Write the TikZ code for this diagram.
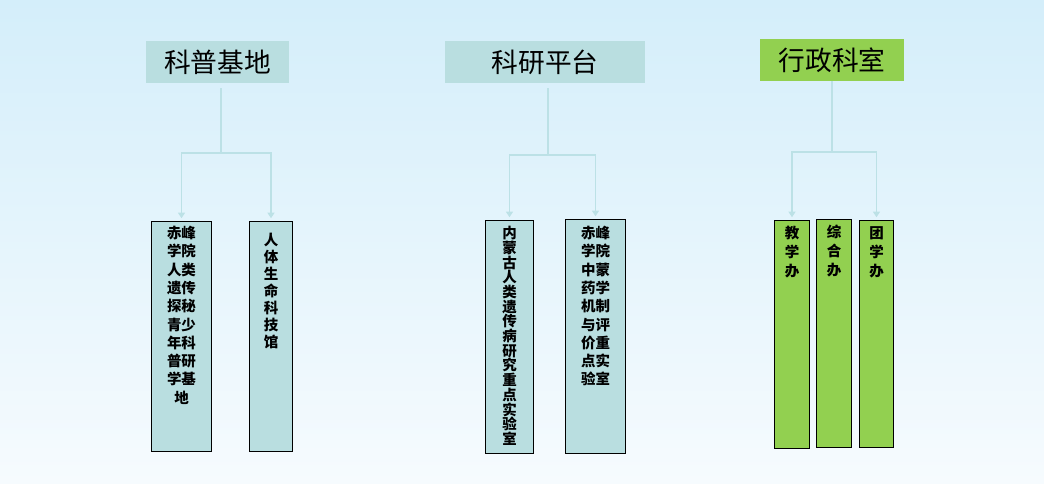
\documentclass[tikz,border=0pt]{standalone}
\usepackage{fontspec}
\usepackage{tikz}
\usetikzlibrary{arrows.meta}
\newfontfamily\cjk{Noto Sans CJK SC}
\newcommand\px{0.025cm}
\definecolor{bgtop}{RGB}{212,238,250}
\definecolor{bgbot}{RGB}{246,251,254}
\definecolor{cellblue}{RGB}{185,222,224}
\definecolor{linkblue}{RGB}{188,225,230}
\definecolor{officegreen}{RGB}{146,208,80}
\tikzset{
	head/.style={fill=cellblue, minimum height=42*\px, inner sep=0pt, font=\cjk\fontsize{19}{21}\selectfont},
	cell/.style={draw=black, line width=0.7pt, fill=cellblue, anchor=north west, inner sep=0pt},
	celltext/.style={anchor=north, align=center, inner sep=0pt, font=\cjk\bfseries\fontsize{10.3}{#1}\selectfont},
	link/.style={draw=linkblue, line width=1.4pt},
	linkarrow/.style={link, -{Triangle[width=5pt,length=4pt]}, shorten >=2pt}
}

\begin{document}
\begin{tikzpicture}[x=0.025cm, y=-0.025cm]
		%%%%% START %%%%%
		\shade[top color=bgtop, bottom color=bgbot] (0, 0) rectangle (1044, 483);
		\useasboundingbox (0, 0) rectangle (1044, 483);
		
		% headers
		\node[head, minimum width=143*\px] (kp) at (217.5, 62) {科普基地};
		\node[head, minimum width=200*\px] (ky) at (545, 62) {科研平台};
		\node[head, minimum width=144*\px, fill=officegreen] (xz) at (832, 60) {行政科室};
		
		% boxes
		\node[cell, minimum width=60*\px, minimum height=230*\px] (kp1) at (151, 221) {};
		\node[cell, minimum width=43*\px, minimum height=230*\px] (kp2) at (249, 221) {};
		\node[cell, minimum width=48*\px, minimum height=233*\px] (ky1) at (485, 220) {};
		\node[cell, minimum width=60*\px, minimum height=234*\px] (ky2) at (565, 219) {};
		\node[cell, minimum width=35*\px, minimum height=228*\px, fill=officegreen] (xz1) at (774, 220) {};
		\node[cell, minimum width=35*\px, minimum height=228*\px, fill=officegreen] (xz2) at (816, 219) {};
		\node[cell, minimum width=34*\px, minimum height=227*\px, fill=officegreen] (xz3) at (859, 220) {};
		
		% box texts
		\node[celltext=13] (kp1t) at ([yshift=-5*\px]kp1.north) {赤峰\\学院\\人类\\遗传\\探秘\\青少\\年科\\普研\\学基\\地};
		\node[celltext=12.1] (kp2t) at ([yshift=-12*\px]kp2.north) {人\\体\\生\\命\\科\\技\\馆};
		\node[celltext=10.45] (ky1t) at ([yshift=-6*\px]ky1.north) {内\\蒙\\古\\人\\类\\遗\\传\\病\\研\\究\\重\\点\\实\\验\\室};
		\node[celltext=13] (ky2t) at ([yshift=-7*\px]ky2.north) {赤峰\\学院\\中蒙\\药学\\机制\\与评\\价重\\点实\\验室};
		\node[celltext=13.5] (xz1t) at ([yshift=-6*\px]xz1.north) {教\\学\\办};
		\node[celltext=13.5] (xz2t) at ([yshift=-6*\px]xz2.north) {综\\合\\办};
		\node[celltext=13.5] (xz3t) at ([yshift=-6*\px]xz3.north) {团\\学\\办};
		
		% connectors
		\coordinate (kpj) at (221, 153);
		\coordinate (kyj) at (548, 155);
		\coordinate (xzj) at (832, 152);
		\draw[link, shorten <=3.5pt] (kpj |- kp.south) -- (kpj);
		\draw[linkarrow] (kpj) -| (kp1.north);
		\draw[linkarrow] (kpj) -| (kp2.north);
		\draw[link, shorten <=3.5pt] (kyj |- ky.south) -- (kyj);
		\draw[linkarrow] (kyj) -| (ky1.north);
		\draw[linkarrow] (kyj) -| (ky2.north);
		\draw[link] (xzj |- xz.south) -- (xzj);
		\draw[linkarrow] (xzj) -| (xz1.north);
		\draw[linkarrow] (xzj) -| (xz3.north);
		%%%%% END %%%%%
	\end{tikzpicture}
\end{document}
